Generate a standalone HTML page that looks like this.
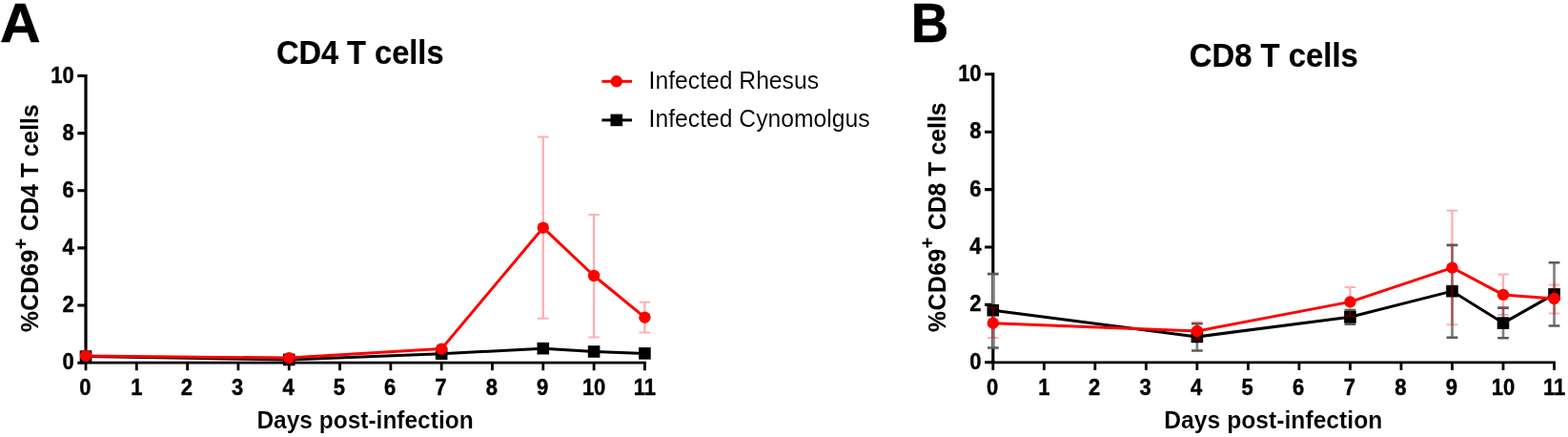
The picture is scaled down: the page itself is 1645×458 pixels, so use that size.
<!DOCTYPE html>
<html lang="en">
<head>
<meta charset="utf-8">
<title>CD69+ T cells post-infection</title>
<style>
html,body{margin:0;padding:0;background:#fff;}
body{width:1645px;height:458px;overflow:hidden;font-family:"Liberation Sans", sans-serif;}
svg text{white-space:pre;}
</style>
</head>
<body>
<svg width="1645" height="458" viewBox="0 0 1645 458" font-family='"Liberation Sans", sans-serif' fill="#000" style="display:block">
<rect width="1645" height="458" fill="#fff"/>
<g font-weight="bold">
<text transform="translate(0.00 43.90) scale(1 0.96)" font-size="59.0" stroke="#000" stroke-width="0.6" stroke-linejoin="round">A</text>
<text transform="translate(955.80 43.90) scale(1 1.035)" font-size="54.7" stroke="#000" stroke-width="0.6" stroke-linejoin="round">B</text>
</g>
<g id="panelA">
<path d="M90.00 77.95V381.55" stroke="#000" stroke-width="3.2" fill="none"/>
<path d="M88.60 380.20H677.81" stroke="#000" stroke-width="2.7" fill="none"/>
<path d="M81.30 380.20H90.00M81.30 320.06H90.00M81.30 259.92H90.00M81.30 199.78H90.00M81.30 139.64H90.00M81.30 79.50H90.00" stroke="#000" stroke-width="3.1" fill="none"/>
<path d="M90.00 380.20V388.30M143.31 380.20V388.30M196.62 380.20V388.30M249.93 380.20V388.30M303.24 380.20V388.30M356.55 380.20V388.30M409.86 380.20V388.30M463.17 380.20V388.30M516.48 380.20V388.30M569.79 380.20V388.30M623.10 380.20V388.30M676.41 380.20V388.30" stroke="#000" stroke-width="2.8" fill="none"/>
<polyline points="90.00,373.60 303.24,377.00 463.17,370.70 569.79,365.20 623.10,368.50 676.41,370.40" stroke="#000" stroke-width="3.0" fill="none" stroke-linejoin="round"/>
<rect x="83.70" y="367.30" width="12.6" height="12.6"/><rect x="296.94" y="370.70" width="12.6" height="12.6"/><rect x="456.87" y="364.40" width="12.6" height="12.6"/><rect x="563.49" y="358.90" width="12.6" height="12.6"/><rect x="616.80" y="362.20" width="12.6" height="12.6"/><rect x="670.11" y="364.10" width="12.6" height="12.6"/>
<g fill="none" opacity="0.3"><path d="M569.79 333.80V143.50M623.10 353.60V225.00M676.41 348.60V316.70" stroke="#ff0000" stroke-width="2.4"/><path d="M563.99 333.80H575.59M563.99 143.50H575.59M617.30 353.60H628.90M617.30 225.00H628.90M670.61 348.60H682.21M670.61 316.70H682.21" stroke="#ff0000" stroke-width="2.0"/></g>
<polyline points="90.00,373.00 303.24,375.10 463.17,365.60 569.79,238.70 623.10,289.00 676.41,332.70" stroke="#ff0000" stroke-width="3.0" fill="none" stroke-linejoin="round"/>
<g fill="#ff0000"><circle cx="90.00" cy="373.00" r="6.2"/><circle cx="303.24" cy="375.10" r="6.2"/><circle cx="463.17" cy="365.60" r="6.2"/><circle cx="569.79" cy="238.70" r="6.2"/><circle cx="623.10" cy="289.00" r="6.2"/><circle cx="676.41" cy="332.70" r="6.2"/></g>
<g font-weight="bold">
<text transform="translate(77.80 387.20) scale(1 1.07)" text-anchor="end" font-size="22.0" stroke="#000" stroke-width="0.4" stroke-linejoin="round">0</text>
<text transform="translate(77.80 327.06) scale(1 1.07)" text-anchor="end" font-size="22.0" stroke="#000" stroke-width="0.4" stroke-linejoin="round">2</text>
<text transform="translate(77.80 266.92) scale(1 1.07)" text-anchor="end" font-size="22.0" stroke="#000" stroke-width="0.4" stroke-linejoin="round">4</text>
<text transform="translate(77.80 206.78) scale(1 1.07)" text-anchor="end" font-size="22.0" stroke="#000" stroke-width="0.4" stroke-linejoin="round">6</text>
<text transform="translate(77.80 146.64) scale(1 1.07)" text-anchor="end" font-size="22.0" stroke="#000" stroke-width="0.4" stroke-linejoin="round">8</text>
<text transform="translate(77.80 86.50) scale(1 1.07)" text-anchor="end" font-size="22.0" stroke="#000" stroke-width="0.4" stroke-linejoin="round">10</text>
<text transform="translate(89.30 414.20) scale(1 1.07)" text-anchor="middle" font-size="22.0" stroke="#000" stroke-width="0.4" stroke-linejoin="round">0</text>
<text transform="translate(143.31 414.20) scale(1 1.07)" text-anchor="middle" font-size="22.0" stroke="#000" stroke-width="0.4" stroke-linejoin="round">1</text>
<text transform="translate(195.92 414.20) scale(1 1.07)" text-anchor="middle" font-size="22.0" stroke="#000" stroke-width="0.4" stroke-linejoin="round">2</text>
<text transform="translate(249.23 414.20) scale(1 1.07)" text-anchor="middle" font-size="22.0" stroke="#000" stroke-width="0.4" stroke-linejoin="round">3</text>
<text transform="translate(302.54 414.20) scale(1 1.07)" text-anchor="middle" font-size="22.0" stroke="#000" stroke-width="0.4" stroke-linejoin="round">4</text>
<text transform="translate(355.85 414.20) scale(1 1.07)" text-anchor="middle" font-size="22.0" stroke="#000" stroke-width="0.4" stroke-linejoin="round">5</text>
<text transform="translate(409.16 414.20) scale(1 1.07)" text-anchor="middle" font-size="22.0" stroke="#000" stroke-width="0.4" stroke-linejoin="round">6</text>
<text transform="translate(462.47 414.20) scale(1 1.07)" text-anchor="middle" font-size="22.0" stroke="#000" stroke-width="0.4" stroke-linejoin="round">7</text>
<text transform="translate(515.78 414.20) scale(1 1.07)" text-anchor="middle" font-size="22.0" stroke="#000" stroke-width="0.4" stroke-linejoin="round">8</text>
<text transform="translate(569.09 414.20) scale(1 1.07)" text-anchor="middle" font-size="22.0" stroke="#000" stroke-width="0.4" stroke-linejoin="round">9</text>
<text transform="translate(623.10 414.20) scale(1 1.07)" text-anchor="middle" font-size="22.0" stroke="#000" stroke-width="0.4" stroke-linejoin="round">10</text>
<text transform="translate(676.41 414.20) scale(1 1.07)" text-anchor="middle" font-size="22.0" stroke="#000" stroke-width="0.4" stroke-linejoin="round">11</text>
<text transform="translate(377.70 67.20) scale(1 1.05)" text-anchor="middle" font-size="32.6" stroke="#000" stroke-width="0.2" stroke-linejoin="round">CD4 T cells</text>
<text transform="translate(383.00 448.50) scale(1 1.03)" text-anchor="middle" font-size="24.5" stroke="#fff" stroke-width="0.12" stroke-linejoin="round">Days post-infection</text>
<text transform="translate(40.40 348.10) rotate(-90) scale(1 1.04)" font-size="24.5" stroke="#000" stroke-width="0.1" stroke-linejoin="round"><tspan letter-spacing="0.5">%CD69</tspan><tspan font-size="19.5" dy="-11.1">+</tspan><tspan dy="11.1" dx="0.8" letter-spacing="0.07"> CD4 T cells</tspan></text>
</g>
</g>
<g id="panelB">
<path d="M1041.80 76.25V381.15" stroke="#000" stroke-width="3.2" fill="none"/>
<path d="M1040.40 379.80H1631.92" stroke="#000" stroke-width="2.7" fill="none"/>
<path d="M1033.10 379.80H1041.80M1033.10 319.40H1041.80M1033.10 259.00H1041.80M1033.10 198.60H1041.80M1033.10 138.20H1041.80M1033.10 77.80H1041.80" stroke="#000" stroke-width="3.1" fill="none"/>
<path d="M1041.80 379.80V387.90M1095.32 379.80V387.90M1148.84 379.80V387.90M1202.36 379.80V387.90M1255.88 379.80V387.90M1309.40 379.80V387.90M1362.92 379.80V387.90M1416.44 379.80V387.90M1469.96 379.80V387.90M1523.48 379.80V387.90M1577.00 379.80V387.90M1630.52 379.80V387.90" stroke="#000" stroke-width="2.8" fill="none"/>
<g fill="none"><path d="M1041.80 364.50V287.10M1255.88 367.50V339.30M1416.44 339.60V325.00M1523.48 353.70V256.90M1577.00 354.20V322.60M1630.52 341.50V275.30" stroke="#808080" stroke-width="2.7"/><path d="M1035.90 364.50H1047.70M1035.90 287.10H1047.70M1249.98 367.50H1261.78M1249.98 339.30H1261.78M1410.54 339.60H1422.34M1410.54 325.00H1422.34M1517.58 353.70H1529.38M1517.58 256.90H1529.38M1571.10 354.20H1582.90M1571.10 322.60H1582.90M1624.62 341.50H1636.42M1624.62 275.30H1636.42" stroke="#5c5c5c" stroke-width="2.6"/></g>
<polyline points="1041.80,325.20 1255.88,352.95 1416.44,332.30 1523.48,305.15 1577.00,338.60 1630.52,308.40" stroke="#000" stroke-width="3.0" fill="none" stroke-linejoin="round"/>
<rect x="1035.50" y="318.90" width="12.6" height="12.6"/><rect x="1249.58" y="346.65" width="12.6" height="12.6"/><rect x="1410.14" y="326.00" width="12.6" height="12.6"/><rect x="1517.18" y="298.85" width="12.6" height="12.6"/><rect x="1570.70" y="332.30" width="12.6" height="12.6"/><rect x="1624.22" y="302.10" width="12.6" height="12.6"/>
<g fill="none" opacity="0.3"><path d="M1041.80 353.90V322.50M1255.88 356.00V337.60M1416.44 331.60V300.90M1523.48 340.20V220.80M1577.00 330.10V287.40M1630.52 328.40V298.50" stroke="#ff0000" stroke-width="2.4"/><path d="M1036.00 353.90H1047.60M1036.00 322.50H1047.60M1250.08 356.00H1261.68M1250.08 337.60H1261.68M1410.64 331.60H1422.24M1410.64 300.90H1422.24M1517.68 340.20H1529.28M1517.68 220.80H1529.28M1571.20 330.10H1582.80M1571.20 287.40H1582.80M1624.72 328.40H1636.32M1624.72 298.50H1636.32" stroke="#ff0000" stroke-width="2.0"/></g>
<polyline points="1041.80,338.65 1255.88,347.00 1416.44,316.40 1523.48,280.60 1577.00,308.90 1630.52,313.00" stroke="#ff0000" stroke-width="3.0" fill="none" stroke-linejoin="round"/>
<g fill="#ff0000"><circle cx="1041.80" cy="338.65" r="6.2"/><circle cx="1255.88" cy="347.00" r="6.2"/><circle cx="1416.44" cy="316.40" r="6.2"/><circle cx="1523.48" cy="280.60" r="6.2"/><circle cx="1577.00" cy="308.90" r="6.2"/><circle cx="1630.52" cy="313.00" r="6.2"/></g>
<g font-weight="bold">
<text transform="translate(1029.60 386.80) scale(1 1.07)" text-anchor="end" font-size="22.0" stroke="#000" stroke-width="0.4" stroke-linejoin="round">0</text>
<text transform="translate(1029.60 326.40) scale(1 1.07)" text-anchor="end" font-size="22.0" stroke="#000" stroke-width="0.4" stroke-linejoin="round">2</text>
<text transform="translate(1029.60 266.00) scale(1 1.07)" text-anchor="end" font-size="22.0" stroke="#000" stroke-width="0.4" stroke-linejoin="round">4</text>
<text transform="translate(1029.60 205.60) scale(1 1.07)" text-anchor="end" font-size="22.0" stroke="#000" stroke-width="0.4" stroke-linejoin="round">6</text>
<text transform="translate(1029.60 145.20) scale(1 1.07)" text-anchor="end" font-size="22.0" stroke="#000" stroke-width="0.4" stroke-linejoin="round">8</text>
<text transform="translate(1029.60 84.80) scale(1 1.07)" text-anchor="end" font-size="22.0" stroke="#000" stroke-width="0.4" stroke-linejoin="round">10</text>
<text transform="translate(1041.10 413.80) scale(1 1.07)" text-anchor="middle" font-size="22.0" stroke="#000" stroke-width="0.4" stroke-linejoin="round">0</text>
<text transform="translate(1095.32 413.80) scale(1 1.07)" text-anchor="middle" font-size="22.0" stroke="#000" stroke-width="0.4" stroke-linejoin="round">1</text>
<text transform="translate(1148.14 413.80) scale(1 1.07)" text-anchor="middle" font-size="22.0" stroke="#000" stroke-width="0.4" stroke-linejoin="round">2</text>
<text transform="translate(1201.66 413.80) scale(1 1.07)" text-anchor="middle" font-size="22.0" stroke="#000" stroke-width="0.4" stroke-linejoin="round">3</text>
<text transform="translate(1255.18 413.80) scale(1 1.07)" text-anchor="middle" font-size="22.0" stroke="#000" stroke-width="0.4" stroke-linejoin="round">4</text>
<text transform="translate(1308.70 413.80) scale(1 1.07)" text-anchor="middle" font-size="22.0" stroke="#000" stroke-width="0.4" stroke-linejoin="round">5</text>
<text transform="translate(1362.22 413.80) scale(1 1.07)" text-anchor="middle" font-size="22.0" stroke="#000" stroke-width="0.4" stroke-linejoin="round">6</text>
<text transform="translate(1415.74 413.80) scale(1 1.07)" text-anchor="middle" font-size="22.0" stroke="#000" stroke-width="0.4" stroke-linejoin="round">7</text>
<text transform="translate(1469.26 413.80) scale(1 1.07)" text-anchor="middle" font-size="22.0" stroke="#000" stroke-width="0.4" stroke-linejoin="round">8</text>
<text transform="translate(1522.78 413.80) scale(1 1.07)" text-anchor="middle" font-size="22.0" stroke="#000" stroke-width="0.4" stroke-linejoin="round">9</text>
<text transform="translate(1577.00 413.80) scale(1 1.07)" text-anchor="middle" font-size="22.0" stroke="#000" stroke-width="0.4" stroke-linejoin="round">10</text>
<text transform="translate(1630.52 413.80) scale(1 1.07)" text-anchor="middle" font-size="22.0" stroke="#000" stroke-width="0.4" stroke-linejoin="round">11</text>
<text transform="translate(1336.30 70.00) scale(1 1.05)" text-anchor="middle" font-size="32.86" stroke="#000" stroke-width="0.2" stroke-linejoin="round">CD8 T cells</text>
<text transform="translate(1335.80 448.50) scale(1 1.03)" text-anchor="middle" font-size="24.7" stroke="#fff" stroke-width="0.12" stroke-linejoin="round">Days post-infection</text>
<text transform="translate(991.90 347.90) rotate(-90) scale(1 1.04)" font-size="24.7" stroke="#000" stroke-width="0.1" stroke-linejoin="round"><tspan letter-spacing="0.5">%CD69</tspan><tspan font-size="19.5" dy="-11.1">+</tspan><tspan dy="11.1" dx="0.8" letter-spacing="0.07"> CD8 T cells</tspan></text>
</g>
</g>
<g id="legend">
<path d="M631.4 85.3H663" stroke="#ff0000" stroke-width="3.0"/><circle cx="646.8" cy="85.3" r="6.2" fill="#ff0000"/>
<path d="M631.4 125.9H663" stroke="#000" stroke-width="3.0"/><rect x="640.50" y="119.60" width="12.6" height="12.6"/>
<text transform="translate(680.60 92.80) scale(1 1.03)" font-weight="normal" font-size="24.7" stroke="#fff" stroke-width="0.08" stroke-linejoin="round">Infected Rhesus</text>
<text transform="translate(680.60 133.10) scale(1 1.03)" font-weight="normal" font-size="24.7" stroke="#fff" stroke-width="0.08" stroke-linejoin="round">Infected Cynomolgus</text>
</g>
</svg>
</body>
</html>
